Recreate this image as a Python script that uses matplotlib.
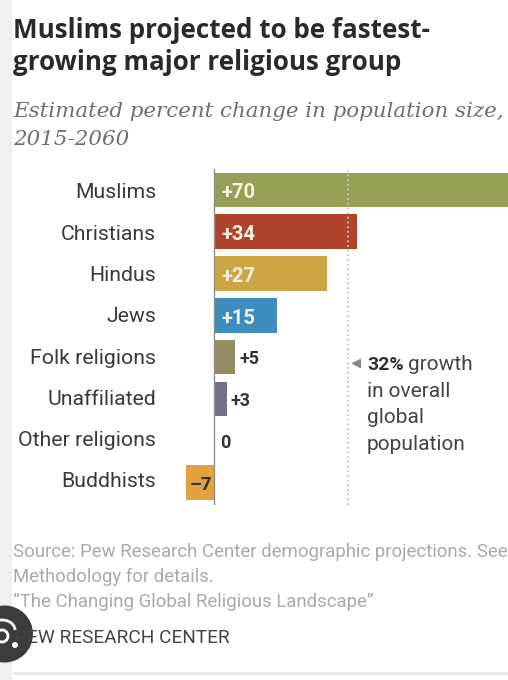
import matplotlib
matplotlib.use('Agg')
import matplotlib.pyplot as plt
from matplotlib.patches import Arc, Circle, Rectangle

# Datos
grupos = ['Muslims', 'Christians', 'Hindus', 'Jews', 'Folk religions',
          'Unaffiliated', 'Other religions', 'Buddhists']
cambio = [70, 34, 27, 15, 5, 3, 0, -7]
etiquetas = ['+70', '+34', '+27', '+15', '+5', '+3', '0', '\u20137']
colores = ['#979e55', '#b0432c', '#cba643', '#3d8dbf', '#948c62', '#776e8c', '#777777', '#e3a13f']
crecimiento_global = 32

W, H = 508, 680
plt.rcParams['font.family'] = ['Roboto', 'DejaVu Sans']

fig = plt.figure(figsize=(W / 100, H / 100), dpi=100, facecolor='white')

# Eje de las barras: 4.2 px por punto porcentual
ax = fig.add_axes([185.6 / W, 1 - 505 / H, (508 - 185.6) / W, (505 - 169) / H])
ax.set_xlim(-6.8, 70)
ax.set_ylim(7.54, -0.5)
ax.axis('off')

pos = list(range(len(grupos)))
ax.barh(pos, cambio, height=0.825, color=colores, zorder=2)
ax.axvline(0, color='#8f8f8f', lw=1.0, zorder=3)
ax.axvline(crecimiento_global, color='#c4c4c4', lw=1.3, ls=(0, (1, 1.6)), zorder=4)

for p, g, v, e in zip(pos, grupos, cambio, etiquetas):
    # las etiquetas del original van un poco mas juntas que las barras
    ax.annotate(g, (0, p), xytext=(-58, -1 + 0.5 * p), textcoords='offset pixels', ha='right',
                va='center_baseline', fontsize=15.3, color='#3a3a3a', annotation_clip=False)
    if v > 5:
        ax.annotate(e, (0, p), xytext=(7, -1), textcoords='offset pixels', ha='left',
                    va='center_baseline', fontsize=14.5, fontweight='bold', color='#f4f0e4')
    elif v < 0:
        ax.annotate(e, (0, p), xytext=(-2, -1), textcoords='offset pixels', ha='right',
                    va='center_baseline', fontsize=13.5, fontweight='bold', color='#333333')
    else:
        ax.annotate(e, (v, p), xytext=(4 if v > 0 else 6, 0), textcoords='offset pixels',
                    ha='left', va='center_baseline', fontsize=13, fontweight='bold', color='#333333')

# Capa de la figura en pixeles para titulos y notas
bg = fig.add_axes([0, 0, 1, 1], zorder=5)
bg.set_xlim(0, W)
bg.set_ylim(H, 0)
bg.axis('off')
bg.patch.set_alpha(0)

bg.add_patch(Rectangle((0, 0), 12, H, color='#eef1f3', lw=0))
bg.add_patch(Rectangle((13, 672), W - 13, 3, color='#e8e8e8', lw=0))

bg.text(13, 38, 'Muslims projected to be fastest-', fontsize=18.7, fontweight='bold',
        family='Open Sans', color='#2a2a2a', va='baseline')
bg.text(13, 70, 'growing major religious group', fontsize=18.7, fontweight='bold',
        family='Open Sans', color='#2a2a2a', va='baseline')
bg.text(13, 117, 'Estimated percent change in population size,', fontsize=15.4, style='italic',
        family='DejaVu Serif', color='#6f6f6f', va='baseline')
bg.text(13, 145, '2015-2060', fontsize=15.4, style='italic', family='DejaVu Serif',
        color='#6f6f6f', va='baseline')

# Nota del crecimiento global
bg.plot([356], [363], marker='<', ms=5.5, color='#8a8a8a', lw=0)
bg.text(367, 370, '32%', fontsize=14, fontweight='bold', color='#333333', va='baseline')
bg.text(408, 370, 'growth', fontsize=15, color='#444444', va='baseline')
bg.text(367, 397, 'in overall', fontsize=15, color='#444444', va='baseline')
bg.text(367, 423, 'global', fontsize=15, color='#444444', va='baseline')
bg.text(367, 450, 'population', fontsize=15, color='#444444', va='baseline')

# Icono de la lupa
bg.add_patch(Circle((4.5, 634), 28.5, color='#3c3c3c', lw=0, zorder=2))
bg.add_patch(Arc((2, 630), 26, 20, theta1=180, theta2=360, ec='white', lw=2, zorder=3))
bg.add_patch(Circle((2, 636), 6, fc='none', ec='white', lw=2, zorder=3))
bg.add_patch(Circle((15, 645), 3, color='white', lw=0, zorder=3))

# Pie
bg.text(13, 557, 'Source: Pew Research Center demographic projections. See', fontsize=13.4,
        color='#aaaaaa', va='baseline')
bg.text(13, 582, 'Methodology for details.', fontsize=13.3, color='#aaaaaa', va='baseline')
bg.text(13, 607, '\u201cThe Changing Global Religious Landscape\u201d', fontsize=13.4,
        color='#aaaaaa', va='baseline')
bg.text(15, 643, 'PEW RESEARCH CENTER', fontsize=13.7, color='#444444', va='baseline', zorder=4)

fig.savefig('out.png', dpi=100)
